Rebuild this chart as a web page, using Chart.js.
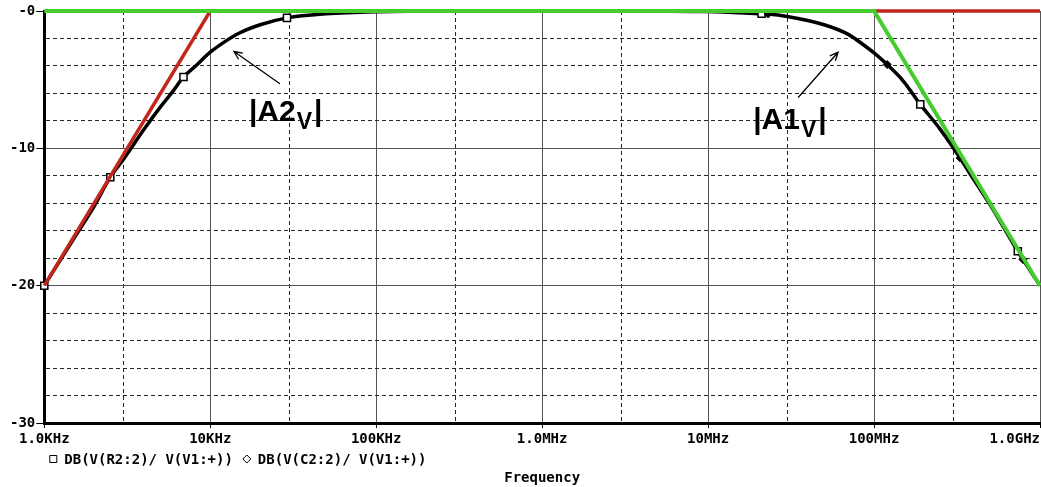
<!DOCTYPE html>
<html>
<head>
<meta charset="utf-8">
<script src="https://cdn.jsdelivr.net/npm/chart.js@4.4.1/dist/chart.umd.min.js"></script>
<style>
  html, body { margin: 0; padding: 0; background: #ffffff; }
  canvas { display: block; }
</style>
</head>
<body>
<canvas id="bode" width="1041" height="487"></canvas>
<script>
// Swept response: frequency (Hz) and gain (dB) of the band-pass stage
const sweepHz = [1e3, 1.5e3, 2e3, 2.5e3, 3e3, 4e3, 5e3, 6e3, 6.9e3, 8e3, 1e4, 1.2e4, 1.5e4, 2e4, 2.9e4, 5e4, 1e5, 3e5, 1e6, 5e6, 1e7, 2.1e7, 2.3e7, 3e7, 5e7, 7e7, 8.5e7, 1e8, 1.2e8, 1.5e8, 1.9e8, 2.5e8, 3.3e8, 4e8, 5e8, 6e8, 7.35e8, 7.9e8, 1e9];
const r2Db = [-20.0, -16.6, -14.2, -12.1, -10.8, -8.6, -7.0, -5.8, -4.8, -4.1, -3.0, -2.3, -1.6, -1.0, -0.5, -0.2, -0.05, 0, 0, -0.01, -0.04, -0.2, -0.22, -0.4, -1.0, -1.7, -2.4, -3.05, -3.9, -5.1, -6.8, -8.6, -10.7, -12.3, -14.1, -15.7, -17.5, -18.1, -20.0];

// Trace markers
const r2MarkHz = [1e3, 2.5e3, 6.9e3, 2.9e4, 2.1e7, 1.9e8, 7.35e8];
const c2MarkHz = [2.3e7, 1.2e8, 3.3e8, 7.9e8];
const c2MarkDb = [-0.22, -3.9, -10.7, -18.1];

// Straight-line (asymptotic) approximations
const lowCornerHz = [1e3, 1e4, 1e9];
const lowCornerDb = [-20, 0, 0];
const highCornerHz = [1e3, 1e8, 1e9];
const highCornerDb = [0, 0, -20];

// Axis ticks and labels
const freqGridHz = [1e3, 3e3, 1e4, 3e4, 1e5, 3e5, 1e6, 3e6, 1e7, 3e7, 1e8, 3e8, 1e9];
const decadeLabels = ['1.0KHz', '10KHz', '100KHz', '1.0MHz', '10MHz', '100MHz', '1.0GHz'];
const dbMajor = [-30, -20, -10, 0];
const dbLabels = ['-30', '-20', '-10', '-0'];

const traceR2 = 'DB(V(R2:2)/ V(V1:+))';
const traceC2 = 'DB(V(C2:2)/ V(V1:+))';

const MONO = '"DejaVu Sans Mono", monospace';
const SANS = '"Liberation Sans", Arial, sans-serif';
const pts = (xs, ys) => xs.map((x, i) => ({ x: x, y: ys[i] }));
const isDecade = v => Math.abs(Math.log10(v) - Math.round(Math.log10(v))) < 1e-6;
const isMajorDb = v => dbMajor.indexOf(v) >= 0;

// Gain callouts with arrows, placed in data coordinates
const callouts = [
  { name: 'A2', textHz: 1.71e4, textDb: -8.0, fromHz: 2.63e4, fromDb: -5.3, toHz: 1.39e4, toDb: -2.95 },
  { name: 'A1', textHz: 1.87e7, textDb: -8.6, fromHz: 3.49e7, fromDb: -6.3, toHz: 6.07e7, toDb: -3.0 }
];

const calloutPlugin = {
  id: 'callouts',
  afterDatasetsDraw(chart) {
    const { ctx, scales: { x, y } } = chart;
    ctx.save();
    ctx.fillStyle = '#000';
    ctx.strokeStyle = '#000';
    ctx.textBaseline = 'alphabetic';
    ctx.textAlign = 'left';
    callouts.forEach(c => {
      // arrow
      const x0 = x.getPixelForValue(c.fromHz), y0 = y.getPixelForValue(c.fromDb);
      const x1 = x.getPixelForValue(c.toHz), y1 = y.getPixelForValue(c.toDb);
      ctx.lineWidth = 1.3;
      ctx.beginPath();
      ctx.moveTo(x0, y0);
      ctx.lineTo(x1, y1);
      const ang = Math.atan2(y0 - y1, x0 - x1);
      const head = 9, spread = 0.42;
      ctx.moveTo(x1 + head * Math.cos(ang - spread), y1 + head * Math.sin(ang - spread));
      ctx.lineTo(x1, y1);
      ctx.lineTo(x1 + head * Math.cos(ang + spread), y1 + head * Math.sin(ang + spread));
      ctx.stroke();
      // label |AnV|
      let tx = x.getPixelForValue(c.textHz);
      const ty = y.getPixelForValue(c.textDb);
      ctx.font = 'bold 30px ' + SANS;
      const main = '|' + c.name;
      ctx.fillText(main, tx, ty);
      tx += ctx.measureText(main).width + 1;
      ctx.font = 'bold 23px ' + SANS;
      ctx.fillText('V', tx, ty + 8);
      tx += ctx.measureText('V').width + 2;
      ctx.font = 'bold 30px ' + SANS;
      ctx.fillText('|', tx, ty);
    });
    ctx.restore();
  }
};

// Trace legend drawn under the frequency tick labels
const traceLegendPlugin = {
  id: 'traceLegend',
  afterDraw(chart) {
    const { ctx, chartArea } = chart;
    const cy = chartArea.bottom + 36;
    let cx = chartArea.left + 5;
    ctx.save();
    ctx.font = 'bold 14px ' + MONO;
    ctx.textBaseline = 'middle';
    ctx.textAlign = 'left';
    ctx.fillStyle = '#000';
    ctx.strokeStyle = '#000';
    ctx.lineWidth = 1;
    const entries = chart.data.datasets.filter(d => d.legendRank).sort((a, b) => a.legendRank - b.legendRank);
    entries.forEach(d => {
      const s = 4;
      ctx.beginPath();
      if (d.pointStyle === 'rectRot') {
        ctx.moveTo(cx + s, cy - s);
        ctx.lineTo(cx + 2 * s, cy);
        ctx.lineTo(cx + s, cy + s);
        ctx.lineTo(cx, cy);
        ctx.closePath();
      } else {
        ctx.rect(cx + 0.5, cy - s + 0.5, 2 * s - 1, 2 * s - 1);
      }
      ctx.stroke();
      cx += 2 * s + 7;
      ctx.fillText(d.label, cx, cy + 1);
      cx += ctx.measureText(d.label).width + 10;
    });
    ctx.restore();
  }
};

new Chart(document.getElementById('bode'), {
  type: 'line',
  data: {
    datasets: [
      {
        label: 'high-frequency asymptote',
        data: pts(highCornerHz, highCornerDb),
        borderColor: '#46cc2f',
        borderWidth: 4,
        pointRadius: 0,
        clip: false,
        order: 1
      },
      {
        label: 'low-frequency asymptote',
        data: pts(lowCornerHz, lowCornerDb),
        borderColor: '#c2261c',
        borderWidth: 3.5,
        pointRadius: 0,
        clip: false,
        order: 2
      },
      {
        label: traceC2,
        legendRank: 2,
        data: pts(c2MarkHz, c2MarkDb),
        showLine: false,
        pointStyle: 'rectRot',
        pointRadius: 4,
        pointBackgroundColor: '#000',
        pointBorderColor: '#000',
        pointBorderWidth: 1,
        clip: false,
        order: 3
      },
      {
        label: traceR2,
        legendRank: 1,
        data: pts(sweepHz, r2Db),
        borderColor: '#000',
        borderWidth: 3.5,
        cubicInterpolationMode: 'monotone',
        pointStyle: 'rect',
        pointRadius: c => (c.raw && r2MarkHz.indexOf(c.raw.x) >= 0) ? 5 : 0,
        pointBackgroundColor: '#fff',
        pointBorderColor: '#000',
        pointBorderWidth: 1.5,
        clip: false,
        order: 4
      }
    ]
  },
  options: {
    responsive: false,
    animation: false,
    events: [],
    layout: { autoPadding: false, padding: { left: 9, top: 11, right: 1, bottom: 2 } },
    plugins: {
      legend: { display: false },
      tooltip: { enabled: false }
    },
    scales: {
      x: {
        type: 'logarithmic',
        min: 1e3,
        max: 1e9,
        afterBuildTicks: s => { s.ticks = freqGridHz.map(v => ({ value: v, major: false })); },
        afterFit: s => { s.paddingRight = 0; },
        ticks: {
          autoSkip: false,
          maxRotation: 0,
          minRotation: 0,
          padding: 4,
          color: '#000',
          font: { family: MONO, size: 14, weight: 'bold', lineHeight: 1 },
          callback: (v) => {
            if (!isDecade(v)) return '';
            const d = Math.round(Math.log10(v)) - 3;
            const txt = decadeLabels[d];
            // last label sits flush with the right edge of the plot
            return d === decadeLabels.length - 1 ? txt + ' '.repeat(txt.length) : txt;
          }
        },
        grid: {
          color: c => (c.tick && isDecade(c.tick.value)) ? '#555555' : '#262626',
          lineWidth: 1,
          tickLength: 5,
          tickColor: c => (c.tick && isDecade(c.tick.value)) ? '#000' : 'rgba(0,0,0,0)'
        },
        border: {
          display: true,
          color: '#000',
          width: 3,
          dash: c => (c.tick && !isDecade(c.tick.value)) ? [4, 3] : []
        },
        title: {
          display: true,
          text: 'Frequency',
          color: '#000',
          font: { family: MONO, size: 14, weight: 'bold', lineHeight: 1 },
          padding: { top: 21, bottom: 0 }
        }
      },
      y: {
        min: -30,
        max: 0,
        ticks: {
          stepSize: 2,
          autoSkip: false,
          padding: 1,
          color: '#000',
          font: { family: MONO, size: 14, weight: 'bold', lineHeight: 1 },
          callback: v => { const i = dbMajor.indexOf(v); return i >= 0 ? dbLabels[i] : ''; }
        },
        grid: {
          color: c => (c.tick && isMajorDb(c.tick.value)) ? '#555555' : '#262626',
          lineWidth: 1,
          tickLength: 8,
          tickColor: c => (c.tick && isMajorDb(c.tick.value)) ? '#000' : 'rgba(0,0,0,0)'
        },
        border: {
          display: true,
          color: '#000',
          width: 3,
          dash: c => (c.tick && !isMajorDb(c.tick.value)) ? [4, 3] : []
        }
      }
    }
  },
  plugins: [calloutPlugin, traceLegendPlugin]
});
</script>
</body>
</html>
